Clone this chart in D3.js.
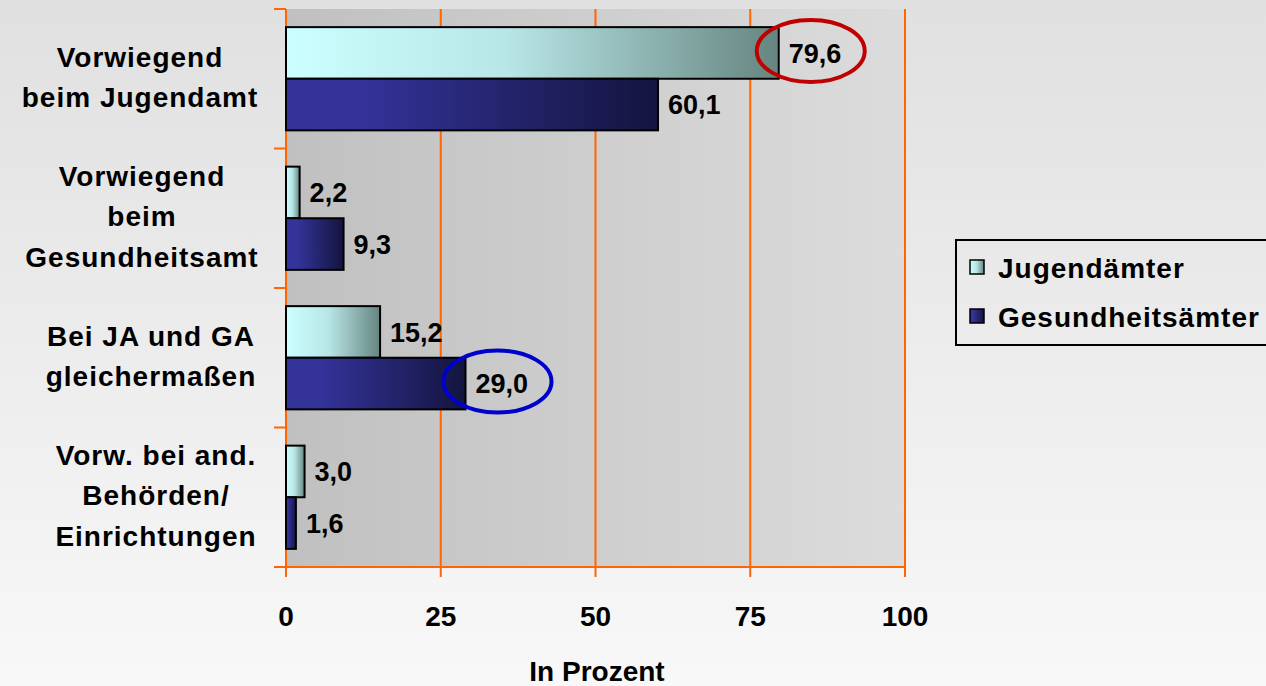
<!DOCTYPE html>
<html>
<head>
<meta charset="utf-8">
<script src="https://cdn.jsdelivr.net/npm/d3@7"></script>
<style>
  html, body { margin: 0; padding: 0; }
  body { width: 1266px; height: 686px; overflow: hidden; }
  svg { display: block; font-family: "Liberation Sans", Arial, sans-serif; font-weight: bold; }
</style>
</head>
<body>
<svg id="chart" width="1266" height="686"></svg>
<script>
// Kategorien (mehrzeilige Beschriftungen)
const categories = [
  ["Vorwiegend", "beim Jugendamt"],
  ["Vorwiegend", "beim", "Gesundheitsamt"],
  ["Bei JA und GA", "gleichermaßen"],
  ["Vorw. bei and.", "Behörden/", "Einrichtungen"]
];
const seriesNames = ["Jugendämter", "Gesundheitsämter"];
const jugendaemter = [79.6, 2.2, 15.2, 3.0];
const gesundheitsaemter = [60.1, 9.3, 29.0, 1.6];
const xTicks = [0, 25, 50, 75, 100];
// hervorgehobene Werte: [Serie, Kategorie, Farbe]
const highlights = [[0, 0, "#c00000"], [1, 2, "#0000cc"]];

const svg = d3.select("#chart");
const W = 1266, H = 686;
const plot = { left: 286, right: 905, top: 9, bottom: 567 };
const orange = "#ff6600";
const FS = 28;
// horizontale Mitte der einzelnen Beschriftungsblöcke
const labelCenters = [140, 142, 151, 156];

const defs = svg.append("defs");
const bg = defs.append("linearGradient").attr("id", "bg").attr("x1", 0).attr("y1", 0).attr("x2", 0).attr("y2", 1);
bg.append("stop").attr("offset", 0).attr("stop-color", "#e0e0e0");
bg.append("stop").attr("offset", 1).attr("stop-color", "#f8f8f8");
const pg = defs.append("linearGradient").attr("id", "plotbg").attr("x1", 0).attr("y1", 0).attr("x2", 1).attr("y2", 0);
pg.append("stop").attr("offset", 0).attr("stop-color", "#c0c0c0");
pg.append("stop").attr("offset", 1).attr("stop-color", "#dcdcdc");
const g1 = defs.append("linearGradient").attr("id", "gJ").attr("x1", 0).attr("y1", 0).attr("x2", 1).attr("y2", 0);
g1.append("stop").attr("offset", 0).attr("stop-color", "#ccffff");
g1.append("stop").attr("offset", 0.45).attr("stop-color", "#b8e6e6");
g1.append("stop").attr("offset", 1).attr("stop-color", "#668580");
const g2 = defs.append("linearGradient").attr("id", "gG").attr("x1", 0).attr("y1", 0).attr("x2", 1).attr("y2", 0);
g2.append("stop").attr("offset", 0).attr("stop-color", "#333399");
g2.append("stop").attr("offset", 0.2).attr("stop-color", "#333399");
g2.append("stop").attr("offset", 1).attr("stop-color", "#14143f");
const fills = ["url(#gJ)", "url(#gG)"];

svg.append("rect").attr("width", W).attr("height", H).attr("fill", "url(#bg)");

const x = d3.scaleLinear().domain([0, 100]).range([plot.left, plot.right]);
const y = d3.scaleBand().domain(d3.range(categories.length)).range([plot.top, plot.bottom]).paddingInner(0.26).paddingOuter(0.13);
const sub = d3.scaleBand().domain([0, 1]).range([0, y.bandwidth()]);
const yEdges = d3.scaleLinear().domain([0, categories.length]).range([plot.top, plot.bottom]);

svg.append("rect").attr("x", plot.left).attr("y", plot.top)
  .attr("width", plot.right - plot.left).attr("height", plot.bottom - plot.top)
  .attr("fill", "url(#plotbg)");

// vertikale Gitterlinien
svg.append("g").selectAll("line").data(xTicks.filter(d => d > 0)).join("line")
  .attr("x1", d => x(d)).attr("x2", d => x(d))
  .attr("y1", plot.top).attr("y2", plot.bottom + 10)
  .attr("stroke", orange).attr("stroke-width", 2);

// Achsen
svg.append("line").attr("x1", plot.left).attr("x2", plot.left).attr("y1", plot.top).attr("y2", plot.bottom + 10)
  .attr("stroke", orange).attr("stroke-width", 2);
svg.append("line").attr("x1", plot.left - 12).attr("x2", plot.right).attr("y1", plot.bottom).attr("y2", plot.bottom)
  .attr("stroke", orange).attr("stroke-width", 2);
svg.append("g").selectAll("line").data(d3.range(categories.length)).join("line")
  .attr("x1", plot.left - 12).attr("x2", plot.left)
  .attr("y1", d => yEdges(d)).attr("y2", d => yEdges(d))
  .attr("stroke", orange).attr("stroke-width", 2);

// Balken mit Wertbeschriftung
const series = [jugendaemter, gesundheitsaemter];
series.forEach((vals, s) => {
  svg.append("g").selectAll("rect").data(vals).join("rect")
    .attr("x", x(0))
    .attr("y", (d, i) => y(i) + sub(s))
    .attr("width", d => x(d) - x(0))
    .attr("height", sub.bandwidth())
    .attr("fill", fills[s])
    .attr("stroke", "#000").attr("stroke-width", 2);
  svg.append("g").selectAll("text").data(vals).join("text")
    .attr("x", d => x(d) + 10)
    .attr("y", (d, i) => y(i) + sub(s) + sub.bandwidth() / 2)
    .attr("dy", "0.36em")
    .attr("font-size", FS - 1)
    .attr("fill", "#000")
    .text(d => d3.format(".1f")(d).replace(".", ","));
});

// Markierungsellipsen
highlights.forEach(([s, i, c]) => {
  const v = series[s][i];
  svg.append("ellipse")
    .attr("cx", x(v) + 32)
    .attr("cy", y(i) + sub(s) + sub.bandwidth() / 2 - 2)
    .attr("rx", 54).attr("ry", 31)
    .attr("fill", "none").attr("stroke", c).attr("stroke-width", 4);
});

// Kategorienbeschriftung
categories.forEach((lines, i) => {
  const cy = y(i) + y.bandwidth() / 2 - 2;
  const lh = 40.5;
  const t = svg.append("text").attr("text-anchor", "middle").attr("font-size", FS)
    .attr("letter-spacing", 1).attr("fill", "#000");
  lines.forEach((ln, k) => {
    t.append("tspan").attr("x", labelCenters[i])
      .attr("y", cy + (k - (lines.length - 1) / 2) * lh)
      .attr("dy", "0.36em").text(ln);
  });
});

// x-Achsenbeschriftung
svg.append("g").selectAll("text").data(xTicks).join("text")
  .attr("x", d => x(d)).attr("y", 616).attr("dy", "0.36em")
  .attr("text-anchor", "middle").attr("font-size", FS).attr("fill", "#000")
  .text(d => d);
svg.append("text").attr("x", 597).attr("y", 671).attr("dy", "0.36em")
  .attr("text-anchor", "middle").attr("font-size", FS).attr("fill", "#000")
  .text("In Prozent");

// Legende
const lg = svg.append("g");
lg.append("rect").attr("x", 956).attr("y", 240).attr("width", 320).attr("height", 105)
  .attr("fill", "none").attr("stroke", "#000").attr("stroke-width", 2);
seriesNames.forEach((n, s) => {
  const ly = 267 + s * 49;
  lg.append("rect").attr("x", 970).attr("y", ly - 7).attr("width", 14).attr("height", 14)
    .attr("fill", fills[s]).attr("stroke", "#000").attr("stroke-width", 1.5);
  lg.append("text").attr("x", 998).attr("y", ly + 1).attr("dy", "0.36em")
    .attr("font-size", FS).attr("letter-spacing", 1).attr("fill", "#000").text(n);
});
</script>
</body>
</html>
